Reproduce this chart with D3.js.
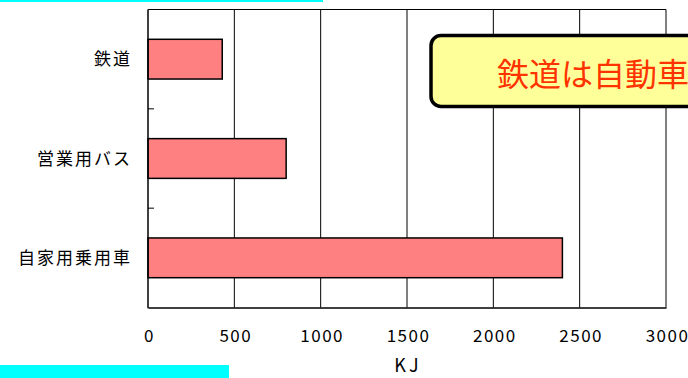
<!DOCTYPE html>
<html>
<head>
<meta charset="utf-8">
<script src="https://cdn.jsdelivr.net/npm/d3@7"></script>
<style>
	body { margin: 0; background: #fff; }
	svg { display: block; }
	text { font-family: "Noto Sans CJK JP", "Noto Sans", sans-serif; }
</style>
</head>
<body>
<svg></svg>
<script>
'use strict';

// 輸送機関別のエネルギー消費量
const categories = ['鉄道', '営業用バス', '自家用乗用車'];
const values = [430, 800, 2400];
const xTicks = [0, 500, 1000, 1500, 2000, 2500, 3000];
const xTitle = 'KJ';
const calloutText = '鉄道は自動車';

const opts = {
	width: 688,
	height: 378,
	left: 148,
	right: 666,
	top: 9.5,
	bottom: 307.5,
	barColor: '#ff8080',
	gridColor: '#000'
};

const svg = d3.select('svg')
	.attr('width', opts.width)
	.attr('height', opts.height);

const x = d3.scaleLinear()
	.domain([0, 3000])
	.range([opts.left, opts.right]);

const y = d3.scaleBand()
	.domain(categories)
	.range([opts.top, opts.bottom])
	.paddingInner(0.6)
	.paddingOuter(0.3);

// decorative cyan strips from the slide
svg.append('rect')
	.attr('x', 0).attr('y', 0)
	.attr('width', 323).attr('height', 2)
	.attr('fill', '#00ffff');

svg.append('rect')
	.attr('x', 0).attr('y', 365)
	.attr('width', 229).attr('height', 13)
	.attr('fill', '#00ffff');

// vertical gridlines
svg.append('g')
	.selectAll('line')
	.data(xTicks.slice(1))
	.join('line')
	.attr('x1', (d) => { return x(d); })
	.attr('x2', (d) => { return x(d); })
	.attr('y1', opts.top)
	.attr('y2', opts.bottom)
	.attr('stroke', opts.gridColor)
	.attr('stroke-width', 1);

// top border
svg.append('line')
	.attr('x1', opts.left).attr('x2', opts.right)
	.attr('y1', opts.top).attr('y2', opts.top)
	.attr('stroke', '#000');

// bars
svg.append('g')
	.selectAll('rect')
	.data(values)
	.join('rect')
	.attr('x', x(0))
	.attr('y', (d, i) => { return y(categories[i]); })
	.attr('width', (d) => { return x(d) - x(0); })
	.attr('height', y.bandwidth())
	.attr('fill', opts.barColor)
	.attr('stroke', '#000')
	.attr('stroke-width', 1.5);

// x axis
const xAxis = svg.append('g')
	.attr('transform', `translate(0, ${opts.bottom})`)
	.call(d3.axisBottom(x).tickValues(xTicks).tickFormat(d3.format('d')).tickSize(0).tickPadding(22));

xAxis.select('.domain').attr('stroke', '#000').attr('stroke-width', 1.5);
xAxis.selectAll('text')
	.attr('font-size', 17)
	.attr('letter-spacing', 1.5)
	.attr('dx', 1)
	.attr('fill', '#000')
	.style('font-family', '"Noto Sans CJK JP", sans-serif');

// y axis line with small inward ticks between categories
svg.append('line')
	.attr('x1', opts.left).attr('x2', opts.left)
	.attr('y1', opts.top).attr('y2', opts.bottom + 0.75)
	.attr('stroke', '#000')
	.attr('stroke-width', 1.5);

const step = y.step();
svg.append('g')
	.selectAll('line')
	.data(categories.slice(1))
	.join('line')
	.attr('x1', opts.left)
	.attr('x2', opts.left + 6)
	.attr('y1', (d) => { return y(d) - step * y.paddingInner() / 2; })
	.attr('y2', (d) => { return y(d) - step * y.paddingInner() / 2; })
	.attr('stroke', '#000');

// category labels
svg.append('g')
	.selectAll('text')
	.data(categories)
	.join('text')
	.text((d) => { return d; })
	.attr('x', 132)
	.attr('y', (d) => { return y(d) + y.bandwidth() / 2; })
	.attr('dy', '0.36em')
	.attr('text-anchor', 'end')
	.attr('font-size', 17)
	.attr('letter-spacing', 2)
	.attr('fill', '#000');

// x title
svg.append('text')
	.text(xTitle)
	.attr('x', 408)
	.attr('y', 372)
	.attr('text-anchor', 'middle')
	.attr('font-size', 18)
	.attr('letter-spacing', 3)
	.attr('fill', '#000');

// callout box
svg.append('rect')
	.attr('x', 431)
	.attr('y', 35.5)
	.attr('width', 300)
	.attr('height', 71)
	.attr('rx', 10)
	.attr('fill', '#ffff99')
	.attr('stroke', '#000')
	.attr('stroke-width', 3.5);

svg.append('text')
	.text(calloutText)
	.attr('x', 497)
	.attr('y', 86)
	.attr('font-size', 32)
	.attr('fill', '#ff3300');
</script>
</body>
</html>
